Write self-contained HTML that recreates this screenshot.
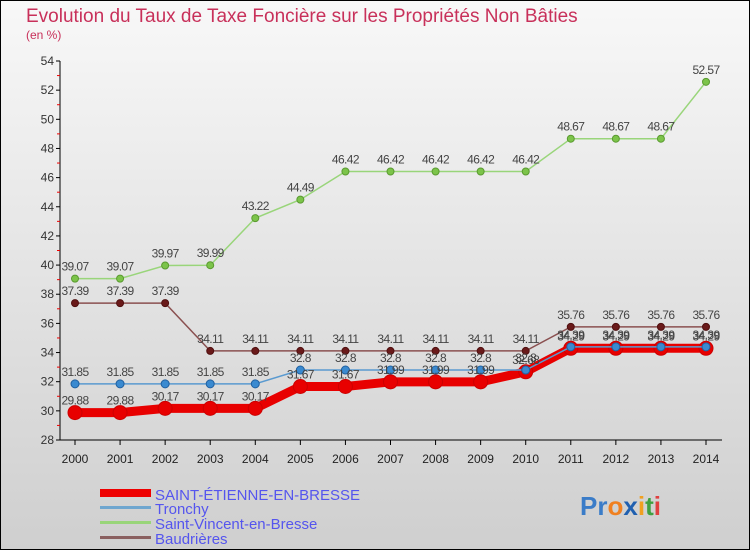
<!DOCTYPE html>
<html><head><meta charset="utf-8"><style>
html,body{margin:0;padding:0}
body{width:750px;height:550px;overflow:hidden;font-family:"Liberation Sans",sans-serif}
</style></head><body>
<svg width="750" height="550" xmlns="http://www.w3.org/2000/svg">
<defs><linearGradient id="bg" x1="0" y1="0" x2="0" y2="1"><stop offset="0" stop-color="#f8f8f8"/><stop offset="1" stop-color="#cfcfcf"/></linearGradient></defs>
<rect x="0.5" y="0.5" width="749" height="549" fill="url(#bg)" stroke="#000"/>
<text x="26" y="22" font-size="19" fill="#c8305a">Evolution du Taux de Taxe Foncière sur les Propriétés Non Bâties</text>
<text x="26" y="39" font-size="12" fill="#c8305a">(en %)</text>
<g id="axes"></g><g id="series"></g><g id="labels"></g>
<g>
<rect x="100" y="489" width="51" height="8" fill="#e00"/>
<text x="155" y="500" font-size="15" fill="#5555ee">SAINT-ÉTIENNE-EN-BRESSE</text>
<rect x="100" y="506" width="51" height="3" fill="#6fa6cf"/>
<text x="155" y="514" font-size="15" fill="#5555ee">Tronchy</text>
<rect x="100" y="521" width="51" height="3" fill="#99d57a"/>
<text x="155" y="529" font-size="15" fill="#5555ee">Saint-Vincent-en-Bresse</text>
<rect x="100" y="536" width="51" height="3" fill="#8a6060"/>
<text x="155" y="544" font-size="15" fill="#5555ee">Baudrières</text>
</g>
<text x="580" y="515" font-size="26" font-weight="bold"><tspan fill="#3a7cc8">Pr</tspan><tspan fill="#f08020">o</tspan><tspan fill="#2060b0">x</tspan><tspan fill="#f0a020">i</tspan><tspan fill="#40a040">t</tspan><tspan fill="#e04040">i</tspan></text>
</svg>
<script>
const years=[2000,2001,2002,2003,2004,2005,2006,2007,2008,2009,2010,2011,2012,2013,2014];
const yTicks=[28,30,32,34,36,38,40,42,44,46,48,50,52,54];
const stEtienne=[29.88,29.88,30.17,30.17,30.17,31.67,31.67,31.99,31.99,31.99,32.68,34.29,34.29,34.29,34.29];
const tronchy=[31.85,31.85,31.85,31.85,31.85,32.8,32.8,32.8,32.8,32.8,32.8,34.39,34.39,34.39,34.39];
const stVincent=[39.07,39.07,39.97,39.99,43.22,44.49,46.42,46.42,46.42,46.42,46.42,48.67,48.67,48.67,52.57];
const baudrieres=[37.39,37.39,37.39,34.11,34.11,34.11,34.11,34.11,34.11,34.11,34.11,35.76,35.76,35.76,35.76];
const NS="http://www.w3.org/2000/svg";
const X=i=>75+i*(706-75)/(years.length-1);
const Y=v=>440-(v-28)*(440-61)/26;
function mk(t,a,p){const e=document.createElementNS(NS,t);for(const k in a)e.setAttribute(k,a[k]);p.appendChild(e);return e;}
const ax=document.getElementById('axes');
const yl=mk('line',{x1:60,y1:61,x2:60,y2:440,stroke:'#000'},ax);


const xl=mk('line',{x1:60,y1:440,x2:722,y2:440,stroke:'#000'},ax);


yTicks.forEach(v=>{
 mk('line',{x1:56,y1:Y(v),x2:60,y2:Y(v),stroke:'#000'},ax);
 if(v<54)mk('line',{x1:57,y1:Y(v+1),x2:60,y2:Y(v+1),stroke:'#e00'},ax);
 const t=mk('text',{x:54,y:Y(v)+4,'font-size':12,fill:'#333','text-anchor':'end'},ax);t.textContent=v;
 
 
});
years.forEach((y,i)=>{
 mk('line',{x1:X(i),y1:440,x2:X(i),y2:445,stroke:'#000'},ax);
 const t=mk('text',{x:X(i),y:463,'font-size':12,fill:'#222','text-anchor':'middle'},ax);t.textContent=y;
 
 
});
const sg=document.getElementById('series'),lg=document.getElementById('labels');
function draw(vals,name,col,w,r,dot,dotStroke){
 const g=mk('g',{},sg);
 
 
 const p=mk('polyline',{points:vals.map((v,i)=>X(i)+','+Y(v)).join(' '),fill:'none',stroke:col,'stroke-width':w},g);
 
 
 vals.forEach((v,i)=>{
  const c=mk('circle',{cx:X(i),cy:Y(v),r:r,fill:dot,stroke:dotStroke,'stroke-width':1},g);
  
  
  const t=mk('text',{x:X(i),y:Y(v)-8,'font-size':12,fill:'#444','text-anchor':'middle','letter-spacing':'-0.6'},lg);
  t.textContent=v;
  
  
 });
}
draw(stVincent,'saint-vincent','#99d57a',1.5,3.5,'#7cc44a','#5a9a30');
draw(baudrieres,'baudrieres','#8a5050',1.5,3.5,'#6a1a1a','#501010');
draw(stEtienne,'saint-etienne','#e80000',9,7,'#e80000','#c00');
draw(tronchy,'tronchy','#5a9ad0',1.5,4,'#3a8ad0','#2060a0');
</script>
</body></html>
